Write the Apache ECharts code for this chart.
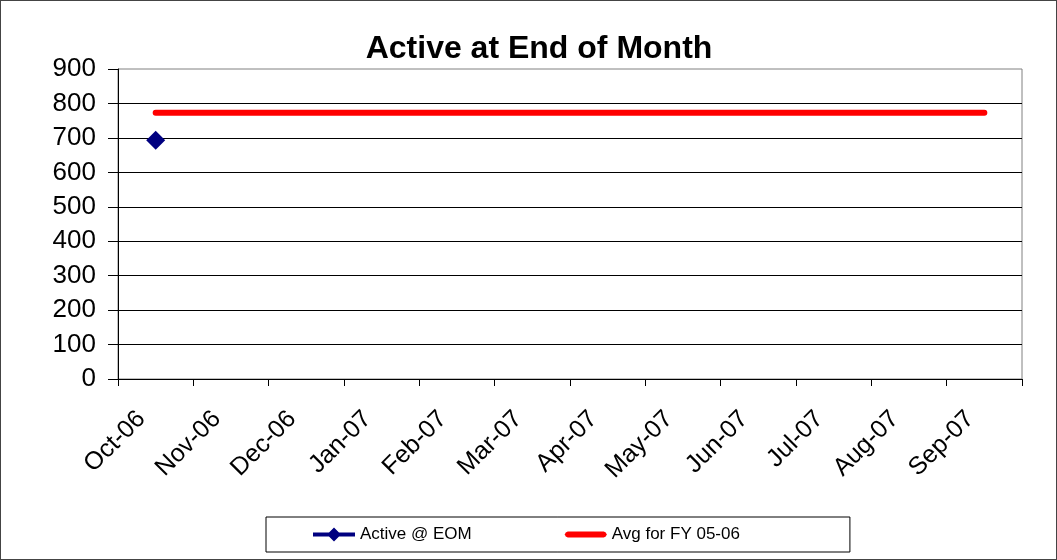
<!DOCTYPE html>
<html>
<head>
<meta charset="utf-8">
<script src="https://cdn.jsdelivr.net/npm/echarts@6/dist/echarts.min.js"></script>
<style>
    html, body { margin: 0; padding: 0; background: #fff; }
    #chart { width: 1055px; height: 558px; border: 1px solid #444; }
</style>
</head>
<body>
<div id="chart"></div>
<script>
    const months = ['Oct-06', 'Nov-06', 'Dec-06', 'Jan-07', 'Feb-07', 'Mar-07',
                    'Apr-07', 'May-07', 'Jun-07', 'Jul-07', 'Aug-07', 'Sep-07'];
    const activeEom = [693, null, null, null, null, null, null, null, null, null, null, null];
    const avgFy0506 = [773, 773, 773, 773, 773, 773, 773, 773, 773, 773, 773, 773];

    let chartDom = document.getElementById('chart');
    let myChart = echarts.init(chartDom);
    const font = 'Liberation Sans, Arial, sans-serif';

    // legend icons: thick line with diamond / thick line with round ends
    const iconActive = 'path://M0 5L42 5L42 9L0 9Z M21 0L28 7L21 14L14 7Z';
    const iconAvg = 'path://M0 0 M42 14 M3 4L39 4L41 5L42 7L41 9L39 10L3 10L1 9L0 7L1 5Z';

    myChart.setOption({
        animation: false,
        title: {
            text: 'Active at End of Month',
            left: 533,
            textAlign: 'center',
            top: 27,
            textStyle: { fontFamily: font, fontSize: 32, fontWeight: 'bold', color: '#000' }
        },
        legend: {
            bottom: 7,
            left: 265,
            data: [
                { name: 'Active @ EOM', icon: iconActive },
                { name: 'Avg for FY 05-06', icon: iconAvg }
            ],
            itemWidth: 42,
            itemHeight: 14,
            itemGap: 93,
            padding: [9, 110, 9, 47],
            borderColor: '#000',
            borderWidth: 1,
            borderRadius: 0,
            textStyle: { fontFamily: font, fontSize: 17, color: '#000' }
        },
        grid: {
            left: 117,
            right: 34,
            top: 68,
            bottom: 180,
            outerBoundsMode: 'none',
            show: true,
            borderColor: '#808080',
            borderWidth: 1
        },
        xAxis: {
            type: 'category',
            data: months,
            boundaryGap: true,
            axisLine: { lineStyle: { color: '#000', width: 1 } },
            axisTick: { show: true, alignWithLabel: false, length: 7, lineStyle: { color: '#000' } },
            axisLabel: {
                rotate: 45,
                margin: 22,
                interval: 0,
                padding: [0, 20, 0, 0],
                fontFamily: font,
                fontSize: 25,
                color: '#000'
            }
        },
        yAxis: {
            type: 'value',
            min: 0,
            max: 900,
            interval: 100,
            axisLine: { show: true, lineStyle: { color: '#000', width: 1 } },
            axisTick: { show: true, length: 10, lineStyle: { color: '#000' } },
            axisLabel: { fontFamily: font, fontSize: 26, color: '#000', margin: 22 },
            splitLine: { showMaxLine: false, lineStyle: { color: '#000', width: 1 } }
        },
        series: [
            {
                name: 'Active @ EOM',
                type: 'line',
                data: activeEom,
                symbol: 'diamond',
                symbolSize: 19,
                color: '#000080',
                itemStyle: { color: '#000080' },
                lineStyle: { color: '#000080', width: 4 }
            },
            {
                name: 'Avg for FY 05-06',
                type: 'line',
                data: avgFy0506,
                symbol: 'none',
                color: '#ff0000',
                itemStyle: { color: '#ff0000' },
                lineStyle: { color: '#ff0000', width: 6, cap: 'round' }
            }
        ]
    });
</script>
</body>
</html>
